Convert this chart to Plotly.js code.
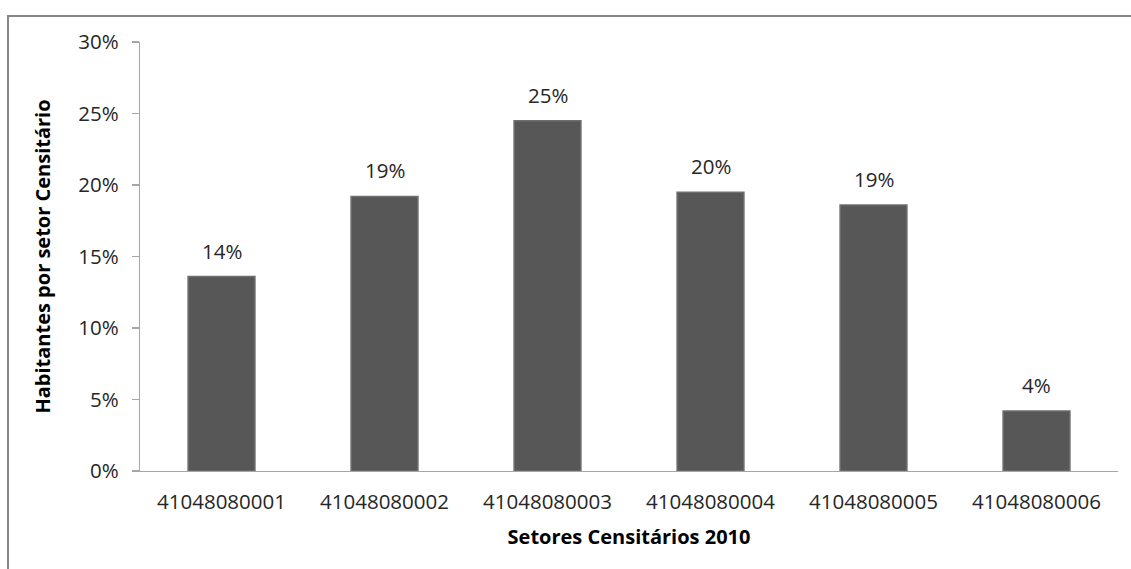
<!DOCTYPE html>
<html>
<head>
<meta charset="utf-8">
<script src="https://cdn.plot.ly/plotly-3.0.1.min.js"></script>
<style>
html,body{margin:0;padding:0;background:#fff;}
#chart{width:1131px;height:569px;}
</style>
</head>
<body>
<div id="chart"></div>
<script>
const categories = ["41048080001","41048080002","41048080003","41048080004","41048080005","41048080006"];
const values = [0.136, 0.192, 0.245, 0.195, 0.186, 0.042];
const labels = ["14%","19%","25%","20%","19%","4%"];

const FONT = "'Open Sans', 'DejaVu Sans', sans-serif";
const TICK = 20.5;

const trace = {
  type: 'bar',
  x: categories,
  y: values,
  marker: {color: '#575757', line: {color: '#6e6e6e', width: 1.5}},
  hoverinfo: 'none'
};

// category axis: position annotations by category index
const annotations = categories.map((c, i) => ({
  x: i, y: values[i], xref: 'x', yref: 'y',
  text: labels[i], showarrow: false,
  yanchor: 'bottom', yshift: 10,
  font: {family: FONT, size: TICK, color: '#262626'}
}));

const layout = {
  width: 1131, height: 569,
  margin: {l: 140, r: 13, t: 42, b: 98},
  paper_bgcolor: '#ffffff',
  plot_bgcolor: '#ffffff',
  bargap: 0.59,
  showlegend: false,
  font: {family: FONT, size: TICK, color: '#262626'},
  annotations: annotations,
  xaxis: {
    type: 'category',
    range: [-0.5, categories.length - 0.5],
    showline: true, linecolor: '#a6a6a6', linewidth: 1.2,
    ticks: '', showgrid: false, zeroline: false,
    ticklabelstandoff: 12,
    tickfont: {family: FONT, size: TICK, color: '#262626'},
    title: {text: 'Setores Censitários 2010', font: {family: FONT, size: 20, color: '#000', weight: 'bold'}, standoff: 16},
    automargin: false
  },
  yaxis: {
    range: [0, 0.3], dtick: 0.05, tickformat: '.0%',
    showline: true, linecolor: '#a6a6a6', linewidth: 1.2,
    ticks: 'outside', ticklen: 7, tickcolor: '#a6a6a6', tickwidth: 1.2,
    ticklabelstandoff: 9,
    showgrid: false, zeroline: false,
    tickfont: {family: FONT, size: TICK, color: '#262626'},
    title: {text: 'Habitantes por setor Censitário', font: {family: FONT, size: 20, color: '#000', weight: 'bold'}, standoff: 22},
    automargin: false
  },
  shapes: [{
    type: 'rect', xref: 'paper', yref: 'paper',
    x0: (8 - 140) / 978, x1: (1145 - 140) / 978,
    y0: (471 - 585) / 429, y1: (471 - 16) / 429,
    line: {color: '#868686', width: 2}, fillcolor: 'rgba(0,0,0,0)'
  }]
};

Plotly.newPlot('chart', [trace], layout, {displayModeBar: false, staticPlot: true});
</script>
</body>
</html>
